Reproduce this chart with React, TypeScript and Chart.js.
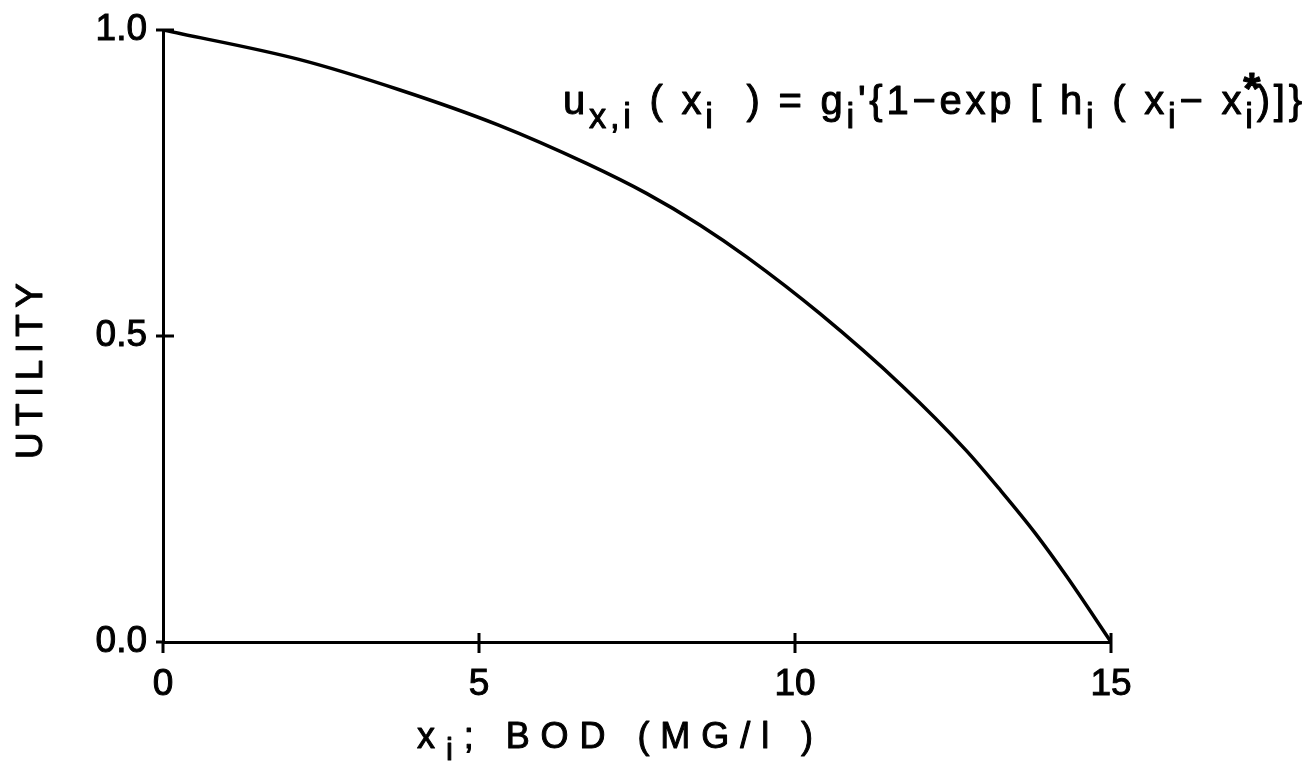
import React, { useEffect, useRef } from 'react';
import { Chart, registerables } from 'chart.js';

Chart.register(...registerables);

// ---- data ----
const BOD_MG_L = [0, 2.15, 3.75, 5.3, 6.7, 7.65, 8.5, 9.25, 10.4, 11.7, 12.7, 13.25, 13.8, 14.3, 15];
const UTILITY = [1.0, 0.952, 0.902, 0.845, 0.782, 0.733, 0.681, 0.628, 0.536, 0.418, 0.314, 0.248, 0.178, 0.107, 0.0];
const X_TICK_VALUES = [0, 5, 10, 15];
const X_TICK_LABELS = ['0', '5', '10', '15'];
const Y_TICK_VALUES = [0, 0.5, 1];
const Y_TICK_LABELS = ['0.0', '0.5', '1.0'];
const Y_TITLE = 'UTILITY';

type Run = { t: string; sub?: boolean; sup?: boolean; noAdv?: boolean };

const X_TITLE: Run[] = [{ t: 'x' }, { t: 'i', sub: true }, { t: '; BOD (MG/l )' }];

const FORMULA: Run[] = [
  { t: 'u' },
  { t: 'x,i', sub: true },
  { t: ' ( ' },
  { t: 'x' },
  { t: 'i', sub: true },
  { t: '  ) = ' },
  { t: 'g' },
  { t: 'i', sub: true },
  { t: "'{1\u2212exp [ " },
  { t: 'h' },
  { t: 'i', sub: true },
  { t: ' ( ' },
  { t: 'x' },
  { t: 'i', sub: true },
  { t: '\u2212 ' },
  { t: 'x' },
  { t: '*', sup: true, noAdv: true },
  { t: 'i', sub: true },
  { t: ')]}' },
];

const FONT = '"Liberation Sans", Arial, Helvetica, sans-serif';

function runFont(r: Run, size: number) {
  const s = r.sub ? size * 0.86 : r.sup ? size * 1.1 : size;
  return `${r.sup ? 'bold ' : ''}${s}px ${FONT}`;
}

function drawRuns(ctx: any, runs: Run[], x0: number, x1: number, baseline: number, size: number) {
  ctx.save();
  ctx.fillStyle = '#000';
  ctx.strokeStyle = '#000';
  ctx.lineWidth = 1;
  ctx.lineJoin = 'round';
  ctx.textBaseline = 'alphabetic';
  ctx.textAlign = 'left';
  ctx.letterSpacing = '0px';
  let natural = 0;
  let count = 0;
  const widths = runs.map((r) => {
    ctx.font = runFont(r, size);
    const w = ctx.measureText(r.t).width;
    if (!r.noAdv) {
      natural += w;
      count += Array.from(r.t).length;
    }
    return w;
  });
  const ls = Math.max(0, (x1 - x0 - natural) / Math.max(1, count - 1));
  let x = x0;
  runs.forEach((r, i) => {
    ctx.font = runFont(r, size);
    ctx.letterSpacing = ls + 'px';
    const dy = r.sub ? size * 0.34 : r.sup ? -size * 0.26 : 0;
    const px = r.sup ? x - 2 : x;
    ctx.fillText(r.t, px, baseline + dy);
    ctx.strokeText(r.t, px, baseline + dy);
    if (!r.noAdv) x += widths[i] + ls * Array.from(r.t).length;
  });
  ctx.restore();
}

const decorations = {
  id: 'decorations',
  afterDraw(chart: any) {
    const { ctx } = chart;
    const xs = chart.scales.x;
    const ys = chart.scales.y;
    const x0 = xs.getPixelForValue(0);
    const y0 = ys.getPixelForValue(0);
    ctx.save();
    ctx.strokeStyle = '#000';
    ctx.lineWidth = 3;
    ctx.lineCap = 'butt';
    X_TICK_VALUES.forEach((v) => {
      const px = xs.getPixelForValue(v);
      ctx.beginPath();
      ctx.moveTo(px, v === 0 ? y0 : y0 - 9);
      ctx.lineTo(px, y0 + 11);
      ctx.stroke();
    });
    Y_TICK_VALUES.forEach((v) => {
      const py = ys.getPixelForValue(v);
      ctx.beginPath();
      ctx.moveTo(x0 - 7, py);
      ctx.lineTo(v === 0 ? x0 : x0 + 11, py);
      ctx.stroke();
    });
    ctx.restore();

    drawRuns(ctx, X_TITLE, 417, 813, 748, 36);

    ctx.save();
    ctx.translate(28, 371);
    ctx.rotate(-Math.PI / 2);
    drawRuns(ctx, [{ t: Y_TITLE }], -88, 88, 14, 37);
    ctx.restore();

    drawRuns(ctx, FORMULA, 563, 1302, 114, 40);
  },
};

export default function App() {
  const ref = useRef<HTMLCanvasElement | null>(null);

  useEffect(() => {
    if (!ref.current) return;
    const chart = new Chart(ref.current, {
      type: 'line',
      data: {
        datasets: [
          {
            data: BOD_MG_L.map((v, i) => ({ x: v, y: UTILITY[i] })),
            borderColor: '#000',
            borderWidth: 3.5,
            pointRadius: 0,
            cubicInterpolationMode: 'monotone',
            fill: false,
          } as any,
        ],
      },
      options: {
        responsive: false,
        animation: false,
        events: [],
        layout: { padding: { top: 30, right: 205, left: 0, bottom: 0 } },
        plugins: { legend: { display: false }, tooltip: { enabled: false } },
        scales: {
          x: {
            type: 'linear',
            min: 0,
            max: 15,
            ticks: {
              stepSize: 5,
              maxRotation: 0,
              autoSkip: false,
              padding: 21,
              color: '#000',
              textStrokeColor: '#000',
              textStrokeWidth: 1,
              font: { family: FONT, size: 37 },
              callback: (v: any) => {
                const i = X_TICK_VALUES.indexOf(Number(v));
                return i >= 0 ? X_TICK_LABELS[i] : '';
              },
            },
            grid: { display: false, drawTicks: false },
            border: { display: true, color: '#000', width: 3 },
            afterFit: (s: any) => {
              s.height = 121;
              s.paddingLeft = 0;
              s.paddingRight = 0;
            },
          },
          y: {
            type: 'linear',
            min: 0,
            max: 1,
            ticks: {
              stepSize: 0.5,
              padding: 16,
              color: '#000',
              textStrokeColor: '#000',
              textStrokeWidth: 1,
              font: { family: FONT, size: 37 },
              callback: (v: any) => {
                const i = Y_TICK_VALUES.indexOf(Number(v));
                return i >= 0 ? Y_TICK_LABELS[i] : '';
              },
            },
            grid: { display: false, drawTicks: false },
            border: { display: true, color: '#000', width: 3 },
            afterFit: (s: any) => {
              s.width = 163;
              s.paddingTop = 0;
              s.paddingBottom = 0;
            },
          },
        },
      } as any,
      plugins: [decorations],
    });
    return () => chart.destroy();
  }, []);

  return (
    <div style={{ position: 'fixed', left: 0, top: 0, width: 1316, height: 763, background: '#fff' }}>
      <canvas ref={ref} width={1316} height={763} style={{ display: 'block' }} />
    </div>
  );
}
